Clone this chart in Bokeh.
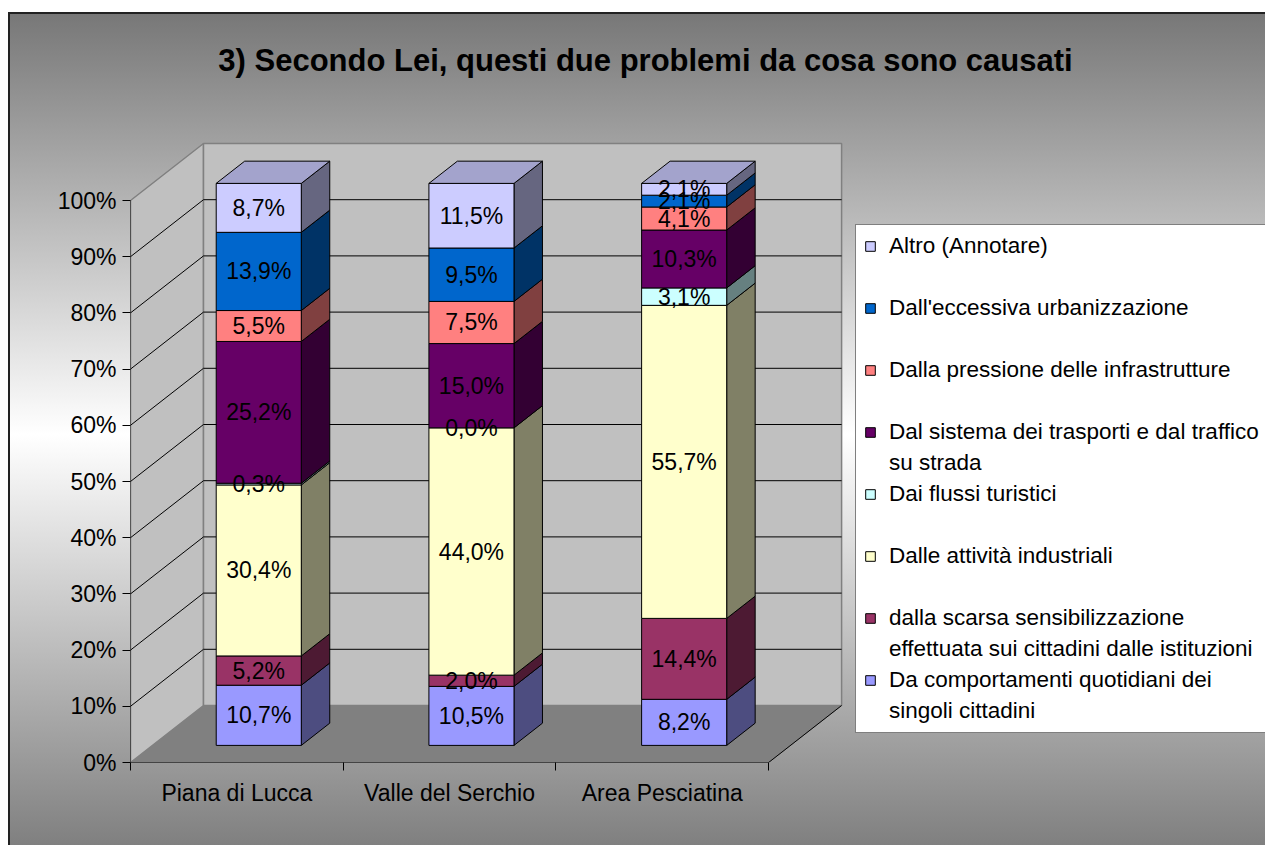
import numpy as np
from bokeh.plotting import figure
from bokeh.models import (ColumnDataSource, FixedTicker, PrintfTickFormatter,
                          Legend, LegendItem, Label)
from bokeh.embed import file_html
from bokeh.resources import INLINE
from bokeh.core.properties import value

# ---------------- data ----------------
title_text = "3) Secondo Lei, questi due problemi da cosa sono causati"
categories = ["Piana di Lucca", "Valle del Serchio", "Area Pesciatina"]
series_names = [
    ["Da comportamenti quotidiani dei", "singoli cittadini"],
    ["dalla scarsa sensibilizzazione", "effettuata sui cittadini dalle istituzioni"],
    ["Dalle attività industriali"],
    ["Dai flussi turistici"],
    ["Dal sistema dei trasporti e dal traffico", "su strada"],
    ["Dalla pressione delle infrastrutture"],
    ["Dall'eccessiva urbanizzazione"],
    ["Altro (Annotare)"],
]
comportamenti = [10.7, 10.5, 8.2]
sensibilizzazione = [5.2, 2.0, 14.4]
industriali = [30.4, 44.0, 55.7]
turistici = [0.3, 0.0, 3.1]
trasporti = [25.2, 15.0, 10.3]
infrastrutture = [5.5, 7.5, 4.1]
urbanizzazione = [13.9, 9.5, 2.1]
altro = [8.7, 11.5, 2.1]
series_values = [comportamenti, sensibilizzazione, industriali, turistici,
                 trasporti, infrastrutture, urbanizzazione, altro]
y_ticks = [0, 10, 20, 30, 40, 50, 60, 70, 80, 90, 100]

# ---------------- styles ----------------
front_colors = ["#9999FF", "#993366", "#FFFFCC", "#CCFFFF",
                "#660066", "#FF8080", "#0066CC", "#CCCCFF"]
side_colors = ["#4D4D80", "#4D1A33", "#808066", "#668080",
               "#330033", "#804040", "#003366", "#666680"]
top_color = "#A3A3CC"
FONT = "Liberation Sans"
FS = "23px"
FS_LEG = "22.5px"

# geometry (pixels per data unit and 3-D depth)
PX_X = 212.7
PX_Y = 5.62
DX = 73 / PX_X
DY = 57 / PX_Y
F0, F1 = 0.30, 0.69
BAR_W = 0.40

W, H = 1265, 845
ML, MB = 130, 83
x_end = (W - ML) / PX_X
y_end = (H - MB) / PX_Y

p = figure(width=W, height=H, output_backend="svg", toolbar_location=None,
           x_range=(0, x_end), y_range=(0, y_end),
           min_border_left=ML, min_border_right=0, min_border_top=0,
           min_border_bottom=MB)
p.styles = {"background": (
    "linear-gradient(#222222, #222222) 8px 12px / 100% 2px no-repeat, "
    "linear-gradient(#222222, #222222) 8px 12px / 2px 100% no-repeat, "
    "linear-gradient(to bottom, #777777 0%, #ffffff 50%, #7c7c7c 100%) 8px 12px / 100% 100% no-repeat, "
    "#ffffff")}
p.background_fill_color = None
p.border_fill_color = None
p.outline_line_color = None
p.xgrid.visible = False
p.ygrid.visible = False

ncat = len(categories)

# floor
p.patch([0, ncat, ncat + DX, DX], [0, 0, DY, DY], fill_color="#808080",
        line_color="#808080", line_width=1)
# left wall
p.patch([0, DX, DX, 0], [0, DY, 100 + DY, 100], fill_color="#C0C0C0",
        line_color="#808080", line_width=1.5)
# back wall
p.patch([DX, ncat + DX, ncat + DX, DX], [DY, DY, 100 + DY, 100 + DY],
        fill_color="#C0C0C0", line_color="#808080", line_width=1.5)
# gridlines
gx, gy = [], []
for t in y_ticks[1:-1]:
    gx.append([0, DX, ncat + DX])
    gy.append([t, t + DY, t + DY])
p.multi_line(gx, gy, line_color="#000000", line_width=1)
# axis lines / floor edge
p.segment(x0=[0, 0, ncat], y0=[0, 0, 0], x1=[0, ncat, ncat + DX], y1=[100, 0, DY],
          line_color="#000000", line_width=1)

# ---------------- bars ----------------
vals = np.array(series_values, dtype=float)
totals = vals.sum(axis=0)
norm = vals / totals * 100.0
cum = np.vstack([np.zeros(ncat), np.cumsum(norm, axis=0)])

ox = F0 * DX
oy = F0 * DY
ddx = (F1 - F0) * DX
ddy = (F1 - F0) * DY
centers = np.arange(ncat) + 0.5
xl = centers - BAR_W / 2 + ox
xr = centers + BAR_W / 2 + ox

front_renderers = []
lab_x, lab_y, lab_t = [], [], []
for s in range(len(series_values)):
    b = cum[s] + oy
    t = cum[s + 1] + oy
    keep = norm[s] > 0
    src = ColumnDataSource(dict(left=xl[keep], right=xr[keep], bottom=b[keep], top=t[keep]))
    sxs = [[xr[j], xr[j] + ddx, xr[j] + ddx, xr[j]] for j in range(ncat) if keep[j]]
    sys = [[b[j], b[j] + ddy, t[j] + ddy, t[j]] for j in range(ncat) if keep[j]]
    p.patches(sxs, sys, fill_color=side_colors[s], line_color="#000000", line_width=1)
    r = p.quad(left="left", right="right", bottom="bottom", top="top", source=src,
               fill_color=front_colors[s], line_color="#000000", line_width=1)
    front_renderers.append(r)
    for j in range(ncat):
        lab_x.append(centers[j] + ox)
        lab_y.append((b[j] + t[j]) / 2)
        lab_t.append(f"{series_values[s][j]:.1f}%".replace(".", ","))

# top faces
txs = [[xl[j], xr[j], xr[j] + ddx, xl[j] + ddx] for j in range(ncat)]
tys = [[100 + oy, 100 + oy, 100 + oy + ddy, 100 + oy + ddy] for j in range(ncat)]
p.patches(txs, tys, fill_color=top_color, line_color="#000000", line_width=1)

p.text(x=lab_x, y=lab_y, text=lab_t, text_align="center", text_baseline="middle",
       text_font=value(FONT), text_font_size=FS, text_color="#000000")

# ---------------- axes ----------------
p.yaxis.ticker = FixedTicker(ticks=y_ticks)
p.yaxis.formatter = PrintfTickFormatter(format="%d%%")
p.yaxis.axis_line_color = None
p.yaxis.major_tick_in = 0
p.yaxis.major_tick_out = 8
p.yaxis.major_tick_line_color = "#000000"
p.yaxis.minor_tick_line_color = None
p.yaxis.major_label_standoff = 6
p.yaxis.major_label_text_font = FONT
p.yaxis.major_label_text_font_size = FS
p.yaxis.major_label_text_color = "#000000"

p.xaxis.ticker = FixedTicker(ticks=list(centers), minor_ticks=list(range(ncat + 1)))
p.xaxis.major_label_overrides = {float(c): categories[i] for i, c in enumerate(centers)}
p.xaxis.axis_line_color = None
p.xaxis.major_tick_in = 0
p.xaxis.major_tick_out = 0
p.xaxis.minor_tick_in = 0
p.xaxis.minor_tick_out = 8
p.xaxis.minor_tick_line_color = "#000000"
p.xaxis.major_label_standoff = 9
p.xaxis.major_label_text_font = FONT
p.xaxis.major_label_text_font_size = FS
p.xaxis.major_label_text_color = "#000000"

# ---------------- title ----------------
p.add_layout(Label(x=(645 - ML) / PX_X, y=(762 - 60) / PX_Y, text=title_text,
                   text_align="center", text_baseline="middle", text_font=FONT,
                   text_font_size="31px", text_font_style="bold", text_color="#000000"))

# ---------------- legend ----------------
# invisible renderer used for the second text line of two-line entries
blank = p.quad(left=[], right=[], bottom=[], top=[], fill_alpha=0, line_alpha=0)
items = []
for s in reversed(range(len(series_names))):
    lines = series_names[s]
    items.append(LegendItem(label=lines[0], renderers=[front_renderers[s]]))
    items.append(LegendItem(label=lines[1] if len(lines) > 1 else " ", renderers=[blank]))
legend = Legend(items=items, location=(855 - ML, 762 - 733))
legend.border_line_color = "#000000"
legend.border_line_width = 1.5
legend.background_fill_color = "#FFFFFF"
legend.background_fill_alpha = 1.0
legend.label_text_font = FONT
legend.label_text_font_size = FS_LEG
legend.label_text_color = "#000000"
legend.glyph_width = 12
legend.glyph_height = 12
legend.label_standoff = 13
legend.padding = 8
legend.spacing = 5
legend.label_height = 26
legend.margin = 0
p.add_layout(legend)

open("out.html", "w").write(file_html(p, INLINE))
